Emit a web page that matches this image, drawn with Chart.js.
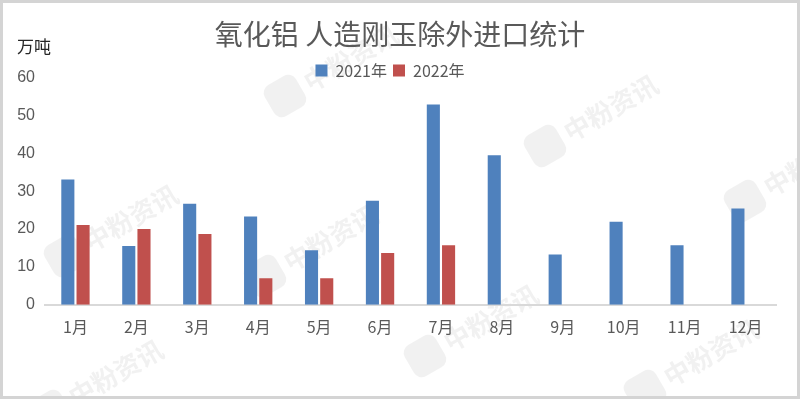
<!DOCTYPE html>
<html>
<head>
<meta charset="utf-8">
<script src="https://cdn.jsdelivr.net/npm/chart.js@4"></script>
<style>
  html, body { margin: 0; padding: 0; background: #fff; }
  #wrap { width: 800px; height: 399px; }
</style>
</head>
<body>
<div id="wrap"><canvas id="chart"></canvas></div>
<script>
const months = ['1月', '2月', '3月', '4月', '5月', '6月', '7月', '8月', '9月', '10月', '11月', '12月']
const imports2021 = [33.1, 15.5, 26.7, 23.3, 14.4, 27.5, 52.9, 39.5, 13.3, 21.9, 15.7, 25.4]
const imports2022 = [21.1, 20.0, 18.7, 7.0, 7.0, 13.7, 15.7, null, null, null, null, null]
const yTicks = [0, 10, 20, 30, 40, 50, 60]

const blue = '#4F81BD'
const red = '#C0504D'
const grey = '#595959'
const cjk = '"Noto Sans CJK SC", "Microsoft YaHei", sans-serif'

// watermark spots (decoration only)
const marks = [[330, 70], [590, 120], [790, 175], [110, 230], [310, 250], [470, 330], [95, 385], [690, 365]]

function shift (box, dx) {
  const draw = box.draw
  box.draw = function () {
    this.ctx.save()
    this.ctx.translate(dx, 0)
    draw.call(this)
    this.ctx.restore()
  }
}

const frame = {
  id: 'frame',
  beforeUpdate (chart) {
    if (chart._patched) return
    // title centred on the canvas, legend overlapping the top label, as in the original
    const legend = chart.legend
    const fit = legend.fit
    legend.fit = function () { fit.call(this); this.height -= 11 }
    shift(legend, 2)
    shift(chart.titleBlock, 12)
    chart._patched = true
  },
  beforeDraw (chart) {
    const ctx = chart.ctx
    ctx.save()
    ctx.fillStyle = '#fff'
    ctx.fillRect(0, 0, chart.width, chart.height)
    ctx.font = 'bold 26px ' + cjk
    ctx.textBaseline = 'middle'
    for (const [x, y] of marks) {
      ctx.save()
      ctx.translate(x, y)
      ctx.rotate(-Math.PI / 6)
      ctx.fillStyle = 'rgba(190,190,190,0.22)'
      ctx.beginPath()
      ctx.roundRect(-70, -18, 36, 36, 9)
      ctx.fill()
      ctx.fillText('中粉资讯', -28, 0)
      ctx.restore()
    }
    ctx.restore()
  },
  afterDraw (chart) {
    const ctx = chart.ctx
    ctx.save()
    ctx.strokeStyle = '#d4d4d4'
    ctx.lineWidth = 3
    ctx.strokeRect(1.5, 1.5, chart.width - 3, chart.height - 3)
    ctx.fillStyle = '#262626'
    ctx.font = '17px ' + cjk
    ctx.textBaseline = 'middle'
    ctx.fillText('万吨', 17, 47)
    ctx.restore()
  }
}

new Chart(document.getElementById('chart').getContext('2d'), {
  type: 'bar',
  data: {
    labels: months,
    datasets: [
      { label: '2021年', backgroundColor: blue, data: imports2021 },
      { label: '2022年', backgroundColor: red, data: imports2022 }
    ]
  },
  options: {
    responsive: true,
    maintainAspectRatio: false,
    animation: false,
    categoryPercentage: 0.5,
    barPercentage: 0.86,
    layout: { padding: { left: 0, right: 24, top: 0, bottom: 57 } },
    plugins: {
      title: {
        display: true,
        text: '氧化铝 人造刚玉除外进口统计',
        color: grey,
        font: { family: cjk, size: 28, weight: 'normal' },
        padding: { top: 18, bottom: 5 }
      },
      legend: {
        labels: {
          color: grey,
          font: { family: cjk, size: 16 },
          boxWidth: 12,
          boxHeight: 12,
          padding: 6
        }
      },
      tooltip: { enabled: false }
    },
    scales: {
      x: {
        grid: { display: false },
        border: { display: true, color: '#d9d9d9', width: 2 },
        ticks: { color: grey, font: { family: cjk, size: 16 }, padding: 5 }
      },
      y: {
        min: 0,
        max: 60,
        afterBuildTicks: (scale) => { scale.ticks = yTicks.map(v => ({ value: v })) },
        afterFit: (scale) => { scale.width = 45 },
        grid: { display: false },
        border: { display: false },
        ticks: { color: grey, font: { family: '"Liberation Sans", sans-serif', size: 16 }, padding: 2 }
      }
    }
  },
  plugins: [frame]
})
</script>
</body>
</html>
